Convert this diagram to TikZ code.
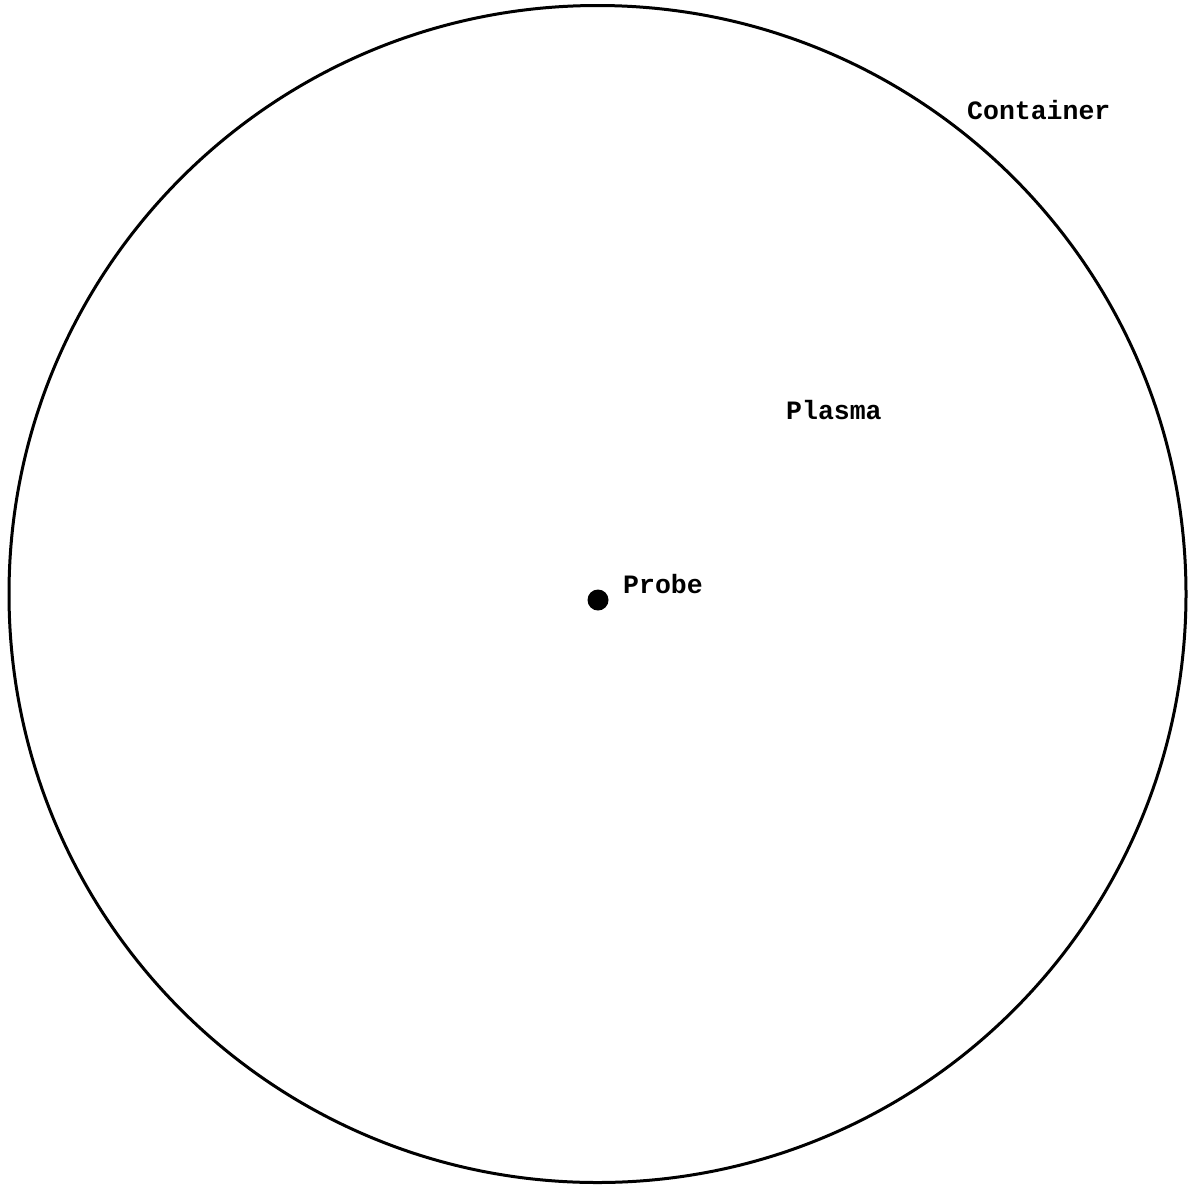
\documentclass[tikz,border=0pt]{standalone}
\usepackage{fontspec}
\setmonofont{Liberation Mono}
\begin{document}
\begin{tikzpicture}[x=1pt,y=-1pt,
  lbl/.style={font=\ttfamily\bfseries\fontsize{26.5}{28}\selectfont, inner sep=0pt, anchor=base west}]
\useasboundingbox (0,0) rectangle (1192,1187);
\node[draw=black, line width=3pt, circle, minimum size=1177pt, inner sep=0pt] (container) at (597.5,594) {};
\node[fill=black, circle, minimum size=21pt, inner sep=0pt] (probe) at (598,600) {};
\node[lbl] (containerlbl) at (967,119) {Container};
\node[lbl] (plasmalbl) at (786,419) {Plasma};
\node[lbl] (probelbl) at (623,593) {Probe};
\end{tikzpicture}
\end{document}
